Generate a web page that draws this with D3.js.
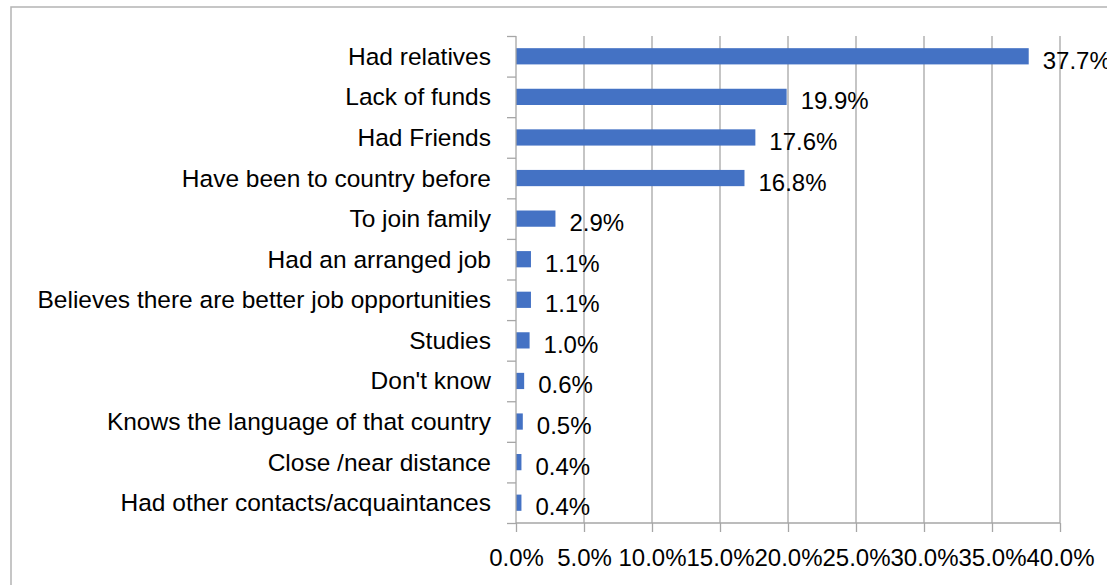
<!DOCTYPE html>
<html><head><meta charset="utf-8">
<script src="https://cdn.jsdelivr.net/npm/d3@7"></script>
<style>html,body{margin:0;padding:0;background:#fff;overflow:hidden}</style>
</head><body>
<svg id="c" width="1107" height="585"></svg>
<script>
const categories = ["Had relatives","Lack of funds","Had Friends","Have been to country before","To join family","Had an arranged job","Believes there are better job opportunities","Studies","Don't know","Knows the language of that country","Close /near distance","Had other contacts/acquaintances"];
const values = [37.7,19.9,17.6,16.8,2.9,1.1,1.1,1.0,0.6,0.5,0.4,0.4];
const xTicks = [0,5,10,15,20,25,30,35,40];

(function(){
const svg = d3.select("#c");
const font = "'Liberation Sans', Arial, sans-serif";
const fs = 24;
const pL = 516, pR = 1060, pT = 36, pB = 523;

svg.append("rect").attr("x",11).attr("y",7).attr("width",1300).attr("height",800)
  .attr("fill","#fff").attr("stroke","#b4b4b4").attr("stroke-width",1.5);

const x = d3.scaleLinear().domain([0,40]).range([pL,pR]);
const y = d3.scaleBand().domain(categories).range([pT,pB]).paddingInner(0.6).paddingOuter(0.3);

const grid = "#a6a6a6";
svg.append("g").selectAll("line").data(xTicks.slice(1)).join("line")
  .attr("x1",d=>x(d)).attr("x2",d=>x(d)).attr("y1",pT).attr("y2",pB)
  .attr("stroke",grid).attr("stroke-width",1.3);

svg.append("g").selectAll("rect").data(values).join("rect")
  .attr("x",x(0)).attr("y",(d,i)=>y(categories[i]))
  .attr("width",d=>x(d)-x(0)).attr("height",y.bandwidth())
  .attr("fill","#4472c4");

const xAxis = d3.axisBottom(x).tickValues(xTicks).tickSize(9).tickPadding(17)
  .tickFormat(d=>d3.format(".1f")(d)+"%");
const gx = svg.append("g").attr("transform",`translate(0,${pB})`).call(xAxis);
gx.select(".domain").attr("stroke",grid).attr("stroke-width",1.3).attr("d",`M${pL},0H${pR}`);
gx.selectAll(".tick line").attr("stroke",grid).attr("stroke-width",1.3);
gx.selectAll("text").attr("font-family",font).attr("font-size",fs).attr("fill","#000");

const yb = d3.scaleLinear().domain([0,categories.length]).range([pT,pB]);
const ga = svg.append("g").attr("transform",`translate(${pL},0)`)
  .call(d3.axisLeft(yb).tickValues(d3.range(categories.length+1)).tickSize(9).tickFormat(""));
ga.select(".domain").attr("stroke",grid).attr("stroke-width",1.3).attr("d",`M0,${pT}V${pB}`);
ga.selectAll(".tick line").attr("stroke",grid).attr("stroke-width",1.3);

svg.append("g").selectAll("text").data(categories).join("text")
  .attr("x",pL-25).attr("y",d=>y(d)+y.bandwidth()/2)
  .attr("text-anchor","end").attr("dominant-baseline","central")
  .attr("font-family",font).attr("font-size",24.5).attr("fill","#000")
  .text(d=>d);

svg.append("g").selectAll("text").data(values).join("text")
  .attr("x",d=>x(d)+14).attr("y",(d,i)=>y(categories[i])+y.bandwidth()/2+4)
  .attr("dominant-baseline","central")
  .attr("font-family",font).attr("font-size",fs).attr("fill","#000")
  .text(d=>d3.format(".1f")(d)+"%");
})();
</script>
</body></html>
